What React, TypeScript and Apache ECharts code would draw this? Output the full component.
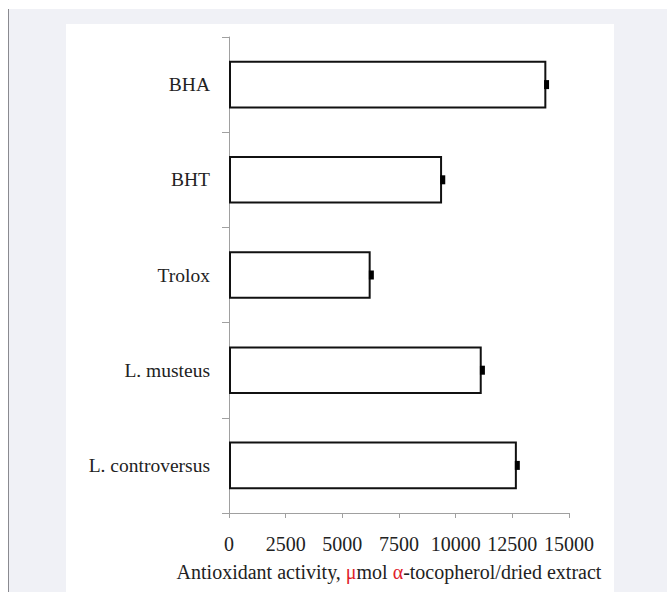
import React, { useEffect, useRef } from "react";
import * as echarts from "echarts";

const categories = ["BHA", "BHT", "Trolox", "L. musteus", "L. controversus"];
const values = [14000, 9400, 6250, 11150, 12700];
const errors = [100, 80, 80, 80, 90];
const xTicks = [0, 2500, 5000, 7500, 10000, 12500, 15000];

const FONT = "'Liberation Serif', 'Times New Roman', serif";
const FS = 19.5;
const FN = 20;

export default function App() {
  const ref = useRef<HTMLDivElement>(null);
  useEffect(() => {
    if (!ref.current) return;
    const chart = echarts.init(ref.current, null, { renderer: "svg" });
    chart.setOption({
      animation: false,
      backgroundColor: "transparent",
      grid: { left: 229, right: 98, top: 37, bottom: 79 },
      xAxis: {
        type: "value",
        min: xTicks[0],
        max: xTicks[xTicks.length - 1],
        interval: 2500,
        splitLine: { show: false },
        axisLine: { show: true, lineStyle: { color: "#a0a0a0", width: 1 } },
        axisTick: { show: true, length: 5, lineStyle: { color: "#a0a0a0" } },
        axisLabel: {
          color: "#222",
          fontFamily: FONT,
          fontSize: FN,
          margin: 21,
          formatter: (v: number) => String(v),
        },
        name:
          "{a|Antioxidant activity, }{r|μ}{a|mol }{r|α}{a|-tocopherol/dried extract}",
        nameLocation: "middle",
        nameGap: 49,
        nameTextStyle: {
          fontFamily: FONT,
          fontSize: FN,
          color: "#222",
          padding: [0, 20, 0, 0],
          rich: {
            a: { fontFamily: FONT, fontSize: FN, color: "#222" },
            r: { fontFamily: FONT, fontSize: FN, color: "#e0202a" },
          },
        },
      },
      yAxis: {
        type: "category",
        data: categories,
        inverse: true,
        axisLine: { show: true, lineStyle: { color: "#a0a0a0", width: 1 } },
        axisTick: { show: true, length: 7, alignWithLabel: false, lineStyle: { color: "#a0a0a0" } },
        axisLabel: { color: "#222", fontFamily: FONT, fontSize: FS, margin: 19 },
        splitLine: { show: false },
      },
      series: [
        {
          type: "bar",
          data: values,
          barWidth: "50%",
          itemStyle: { color: "#ffffff", borderColor: "#111", borderWidth: 2 },
        },
        {
          type: "custom",
          data: values.map((v, i) => [i, v, errors[i]]),
          encode: { x: 1, y: 0 },
          z: 5,
          renderItem: (params: any, api: any) => {
            const idx = api.value(0);
            const v = api.value(1);
            const e = api.value(2);
            const p1 = api.coord([v - e, idx]);
            const p2 = api.coord([v + e, idx]);
            const h = 9;
            return {
              type: "rect",
              shape: { x: p1[0], y: p1[1] - h / 2, width: Math.max(p2[0] - p1[0], 5), height: h },
              style: { fill: "#000" },
            };
          },
        },
      ],
    });
    return () => chart.dispose();
  }, []);

  return (
    <div style={{ position: "absolute", left: 0, top: 0, width: 667, height: 592, background: "#fff", overflow: "hidden" }}>
      <div
        style={{
          position: "absolute",
          left: 8,
          top: 9,
          width: 659,
          height: 583,
          background: "#f0f1f6",
          borderLeft: "1px solid #8a8a90",
        }}
      />
      <div style={{ position: "absolute", left: 66, top: 24, width: 548, height: 568, background: "#fff" }} />
      <div ref={ref} style={{ position: "absolute", left: 0, top: 0, width: 667, height: 592 }} />
    </div>
  );
}
